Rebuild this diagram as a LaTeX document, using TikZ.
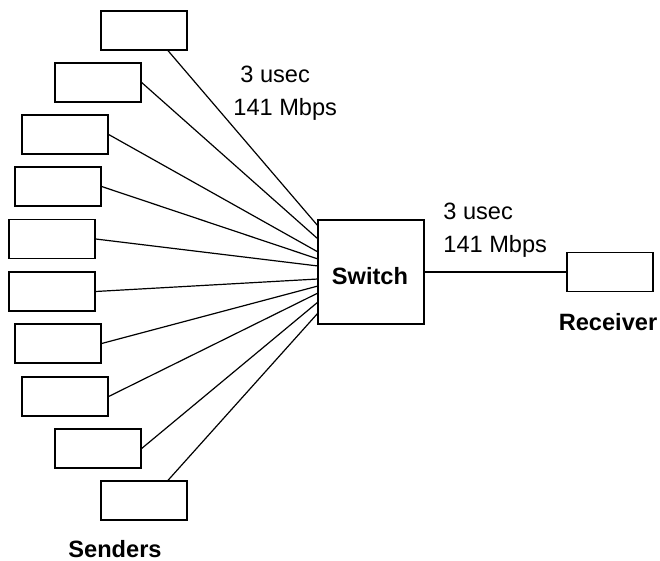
\documentclass[tikz,border=0pt]{standalone}
\usepackage{fontspec}
\setmainfont{Liberation Sans}
\begin{document}
\begin{tikzpicture}[x=0.5pt,y=-0.5pt,
  box/.style={draw, line width=0.65pt, minimum width=43pt, minimum height=19.5pt, inner sep=0pt},
  bigbox/.style={draw, line width=0.65pt, minimum width=53pt, minimum height=52pt, inner sep=0pt},
  lbl/.style={inner sep=0pt, font=\fontsize{11.8}{14}\selectfont},
  blbl/.style={inner sep=0pt, font=\fontsize{11.8}{14}\selectfont\bfseries},
  link/.style={line width=0.6pt}]
\useasboundingbox (0,0) rectangle (660,561);
% senders
\node[box] (s1) at (144,30.5) {};
\node[box] (s2) at (98,82.5) {};
\node[box] (s3) at (65,134.5) {};
\node[box] (s4) at (58,186.5) {};
\node[box] (s5) at (52,239) {};
\node[box] (s6) at (52,291.5) {};
\node[box] (s7) at (58,343.5) {};
\node[box] (s8) at (65,396.5) {};
\node[box] (s9) at (98,448.5) {};
\node[box] (s10) at (144,500.5) {};
% switch and receiver
\node[bigbox] (sw) at (371,272) {};
\node[blbl, anchor=base] (swl) at (370,285) {Switch};
\node[box] (rc) at (610,272) {};
% endpoints on switch edge
\coordinate (e1) at (318,226);
\coordinate (e2) at (318,239);
\coordinate (e3) at (318,252);
\coordinate (e4) at (318,259);
\coordinate (e5) at (318,266);
\coordinate (e6) at (318,279);
\coordinate (e7) at (318,286);
\coordinate (e8) at (318,293);
\coordinate (e9) at (318,302);
\coordinate (e10) at (318,313);
\draw[link] ([xshift=12pt]s1.south) -- (e1);
\draw[link] (s2.east) -- (e2);
\draw[link] (s3.east) -- (e3);
\draw[link] (s4.east) -- (e4);
\draw[link] (s5.east) -- (e5);
\draw[link] (s6.east) -- (e6);
\draw[link] (s7.east) -- (e7);
\draw[link] (s8.east) -- (e8);
\draw[link] (s9.east) -- (e9);
\draw[link] ([xshift=12pt]s10.north) -- (e10);
\draw[link] (sw.east) -- (rc.west);
% labels
\node[lbl, anchor=base west] (t1) at (240,83) {3 usec};
\node[lbl, anchor=base west] (t2) at (233,116) {141 Mbps};
\node[lbl, anchor=base west] (t3) at (443,220) {3 usec};
\node[lbl, anchor=base west] (t4) at (443,253) {141 Mbps};
\node[blbl, anchor=base] (rl) at (608,331) {Receiver};
\node[blbl, anchor=base] (sl) at (115,558) {Senders};
\end{tikzpicture}
\end{document}
